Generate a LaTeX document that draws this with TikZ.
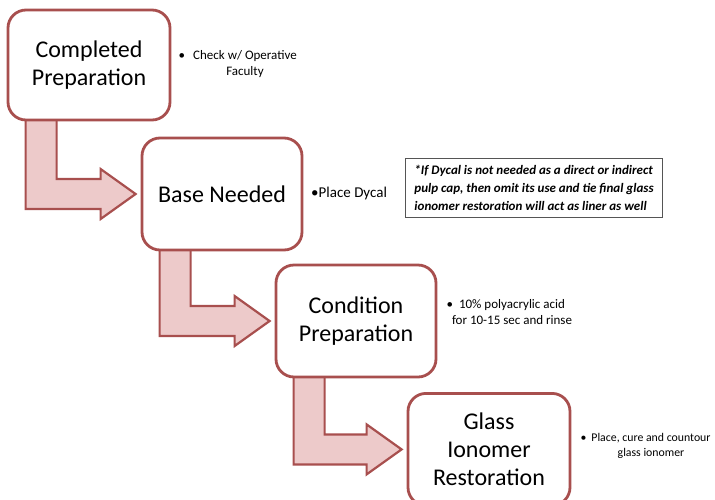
\documentclass[tikz,border=0pt]{standalone}
\usepackage{fontspec}
\setmainfont{Carlito}
\usetikzlibrary{calc,backgrounds}
\definecolor{stepred}{HTML}{A84F4E}
\definecolor{steppink}{HTML}{EDCACA}
\definecolor{noteline}{HTML}{555555}
\tikzset{
  stepbox/.style={draw=stepred, line width=2.8pt, fill=white, rounded corners=18pt,
    minimum width=160pt, minimum height=110pt, align=center, font=\fontsize{24}{28}\selectfont,
    inner sep=0pt},
  bentarrow/.style={draw=stepred, fill=steppink, line width=2.2pt, line join=miter},
  sidenote/.style={font=\fontsize{13}{15.5}\selectfont, inner sep=0pt, align=center},
  notebox/.style={draw=noteline, line width=0.9pt, fill=white, align=left,
    font=\fontsize{13}{18}\bfseries\itshape\selectfont, inner xsep=9pt, inner ysep=7pt}
}
% hanging bullet placed before a centred line
\newcommand\hangbullet[1]{\llap{•\hspace{#1}}}
% L-shaped block arrow running from the bottom of one box to the left side of the next
\newcommand\steparrow[2]{%
  \path let \p1=(#1.south west), \p2=(#2.west) in
    [bentarrow] (\x1+19pt,\y1+6pt) -- (\x1+50pt,\y1+6pt) -- (\x1+50pt,\y2+15pt)
    -- (\x2-40pt,\y2+15pt) -- (\x2-40pt,\y2+25pt) -- (\x2-5pt,\y2)
    -- (\x2-40pt,\y2-25pt) -- (\x2-40pt,\y2-15pt) -- (\x1+19pt,\y2-15pt) -- cycle;}
\begin{document}
\begin{tikzpicture}[x=1pt,y=-1pt]
\useasboundingbox (0,0) rectangle (715,499);
\clip (0,0) rectangle (715,499);

% step boxes
\node[stepbox, minimum width=162pt, minimum height=110pt] (b1) at (89,65) {Completed\\Preparation};
\node[stepbox, minimum width=160pt, minimum height=112pt] (b2) at (222,194) {Base Needed};
\node[stepbox, minimum width=160pt, minimum height=112pt] (b3) at (356,321) {Condition\\Preparation};
\node[stepbox, minimum width=162pt, minimum height=112pt, anchor=north] (b4) at (489,392) {Glass\\Ionomer\\Restoration};

% connectors between steps, kept behind the boxes
\begin{scope}[on background layer]
\steparrow{b1}{b2}
\steparrow{b2}{b3}
\steparrow{b3}{b4}
\end{scope}

% side notes
\node[sidenote] (n1) at (245,64) {\hangbullet{8pt}Check w/ Operative\\Faculty};
\node[sidenote, anchor=west, font=\fontsize{15}{18}\selectfont] (n2) at (311,193) {•Place Dycal};
\node[sidenote] (n3) at (512,312) {\hangbullet{6pt}10\% polyacrylic acid\\for 10-15 sec and rinse};
\node[sidenote, font=\fontsize{11.8}{15}\selectfont] (n4) at (651,446)
  {\hangbullet{5pt}Place, cure and countour\\glass ionomer};

% footnote box
\node[notebox, anchor=north west] (fn) at (405,158)
  {*If Dycal is not needed as a direct or indirect\\pulp cap, then omit its use and tie final glass\\ionomer restoration will act as liner as well};
\end{tikzpicture}
\end{document}
